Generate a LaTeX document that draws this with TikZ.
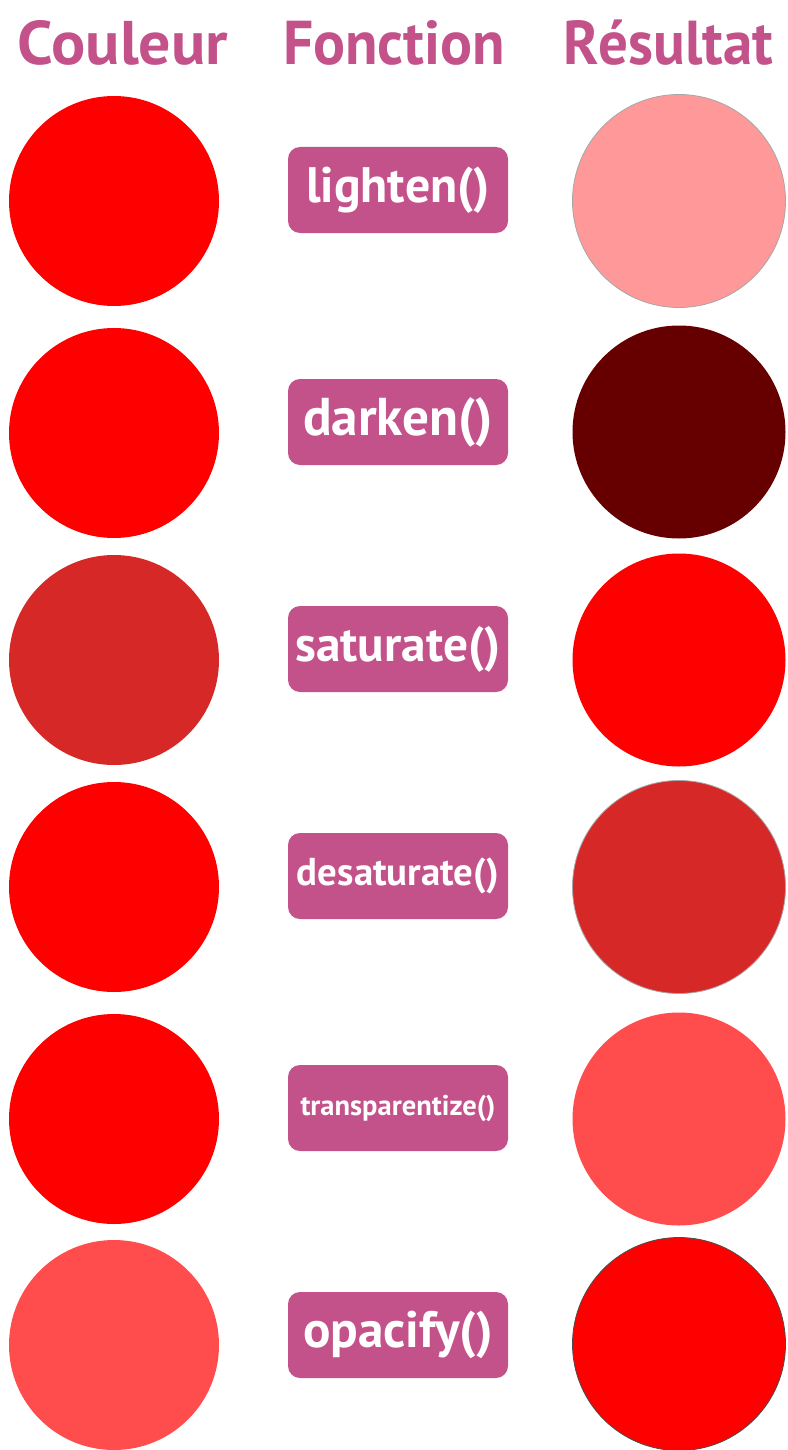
\documentclass[tikz,border=0pt]{standalone}
\usepackage{fontspec}
\setmainfont{PT Sans}
\definecolor{pinkc}{HTML}{C4528A}
\definecolor{redc}{HTML}{FF0000}
\definecolor{lightc}{HTML}{FF9999}
\definecolor{darkc}{HTML}{660000}
\definecolor{desatc}{HTML}{D72828}
\definecolor{transc}{HTML}{FF4D4D}
\newcommand{\fw}[2]{\resizebox{#1pt}{!}{\fontsize{40}{44}\selectfont\bfseries #2}}
\newcommand{\hw}[2]{\resizebox{#1pt}{44pt}{\fontsize{56}{60}\selectfont\bfseries #2}}
\begin{document}
\begin{tikzpicture}[x=1pt,y=-1pt,
  head/.style={text=pinkc,anchor=base,inner sep=0pt},
  fbox/.style={fill=pinkc,rounded corners=12pt,minimum width=220pt,minimum height=86pt,inner sep=0pt,text=white},
  lcirc/.style={circle,minimum size=210pt,inner sep=0pt},
  rcirc/.style={circle,minimum size=213pt,inner sep=0pt}]
\useasboundingbox[fill=white] (0,0) rectangle (787,1450);
\node[head] (h1) at (123,65) {\hw{210}{Couleur}};
\node[head] (h2) at (394,65) {\hw{222}{Fonction}};
\node[head] (h3) at (668,65) {\hw{210}{R\smash{é}sultat}};
% row 1
\node[lcirc,fill=redc] (c1) at (114,201) {};
\node[fbox] (f1) at (398,190) {\fw{184}{lighten()}};
\node[rcirc,fill=lightc,draw=gray!70,line width=0.8pt] (r1) at (679,201) {};
% row 2
\node[lcirc,fill=redc] (c2) at (114,433) {};
\node[fbox] (f2) at (398,422) {\fw{190}{darken()}};
\node[rcirc,fill=darkc] (r2) at (679,432) {};
% row 3
\node[lcirc,fill=desatc] (c3) at (114,660) {};
\node[fbox] (f3) at (398,649) {\fw{205}{saturate()}};
\node[rcirc,fill=redc] (r3) at (679,660) {};
% row 4
\node[lcirc,fill=redc] (c4) at (114,887) {};
\node[fbox] (f4) at (398,876) {\fw{202}{desaturate()}};
\node[rcirc,fill=desatc,draw=gray!70,line width=0.8pt] (r4) at (679,887) {};
% row 5
\node[lcirc,fill=redc] (c5) at (114,1119) {};
\node[fbox] (f5) at (398,1108) {\fw{195}{transparentize()}};
\node[rcirc,fill=transc] (r5) at (679,1119) {};
% row 6
\node[lcirc,fill=transc] (c6) at (114,1345) {};
\node[fbox] (f6) at (398,1335) {\fw{190}{opacify()}};
\node[rcirc,fill=redc,draw=black!70,line width=0.8pt] (r6) at (679,1344) {};
\end{tikzpicture}
\end{document}
